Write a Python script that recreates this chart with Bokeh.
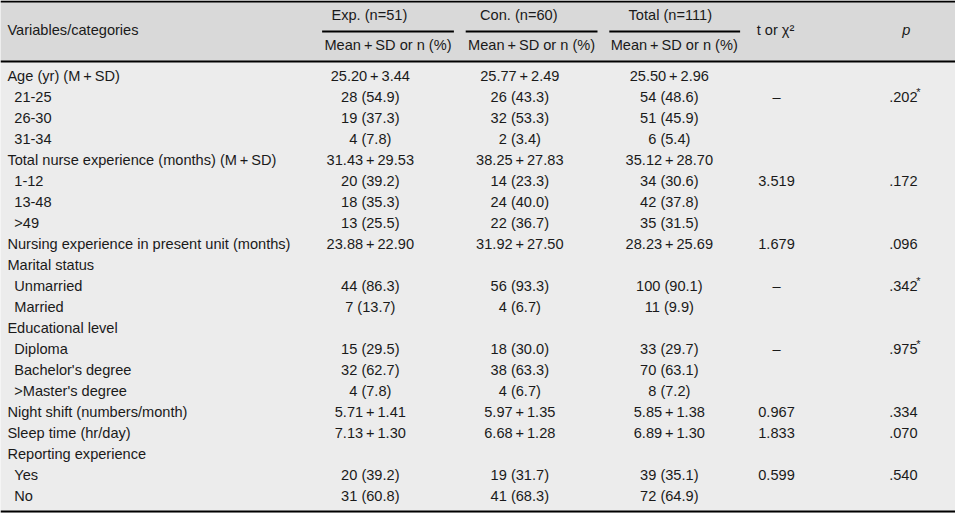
from bokeh.plotting import figure
from bokeh.models import ColumnDataSource, Range1d
from bokeh.core.properties import value
from bokeh.embed import file_html
from bokeh.resources import INLINE

PL = "\u2009+\u2009"

variables = ["Age (yr) (M" + PL + "SD)", "21-25", "26-30", "31-34",
             "Total nurse experience (months) (M" + PL + "SD)", "1-12", "13-48", ">49",
             "Nursing experience in present unit (months)", "Marital status",
             "Unmarried", "Married", "Educational level", "Diploma",
             "Bachelor's degree", ">Master's degree", "Night shift (numbers/month)",
             "Sleep time (hr/day)", "Reporting experience", "Yes", "No"]
level = [0, 1, 1, 1, 0, 1, 1, 1, 0, 0, 1, 1, 0, 1, 1, 1, 0, 0, 0, 1, 1]

exp_vals = ["25.20" + PL + "3.44", "28 (54.9)", "19 (37.3)", "4 (7.8)",
            "31.43" + PL + "29.53", "20 (39.2)", "18 (35.3)", "13 (25.5)",
            "23.88" + PL + "22.90", "", "44 (86.3)", "7 (13.7)", "",
            "15 (29.5)", "32 (62.7)", "4 (7.8)", "5.71" + PL + "1.41",
            "7.13" + PL + "1.30", "", "20 (39.2)", "31 (60.8)"]
con_vals = ["25.77" + PL + "2.49", "26 (43.3)", "32 (53.3)", "2 (3.4)",
            "38.25" + PL + "27.83", "14 (23.3)", "24 (40.0)", "22 (36.7)",
            "31.92" + PL + "27.50", "", "56 (93.3)", "4 (6.7)", "",
            "18 (30.0)", "38 (63.3)", "4 (6.7)", "5.97" + PL + "1.35",
            "6.68" + PL + "1.28", "", "19 (31.7)", "41 (68.3)"]
total_vals = ["25.50" + PL + "2.96", "54 (48.6)", "51 (45.9)", "6 (5.4)",
              "35.12" + PL + "28.70", "34 (30.6)", "42 (37.8)", "35 (31.5)",
              "28.23" + PL + "25.69", "", "100 (90.1)", "11 (9.9)", "",
              "33 (29.7)", "70 (63.1)", "8 (7.2)", "5.85" + PL + "1.38",
              "6.89" + PL + "1.30", "", "39 (35.1)", "72 (64.9)"]
t_vals = ["", "\u2013", "", "", "", "3.519", "", "", "1.679", "", "\u2013", "", "",
          "\u2013", "", "", "0.967", "1.833", "", "0.599", ""]
p_vals = ["", ".202", "", "", "", ".172", "", "", ".096", "", ".342", "", "",
          ".975", "", "", ".334", ".070", "", ".540", ""]
p_star = [False, True, False, False, False, False, False, False, False, False, True,
          False, False, True, False, False, False, False, False, False, False]

group_headers = ["Exp. (n=51)", "Con. (n=60)", "Total (n=111)"]
sub_header = "Mean" + PL + "SD or n (%)"

W, H = 971, 529
FONT = value("Liberation Sans")
FS = "14.6px"
TXT = "#1a1a1a"

p = figure(width=955, height=513, x_range=Range1d(0, W), y_range=Range1d(H, 0),
           output_backend="svg", toolbar_location=None, min_border=0,
           x_axis_type=None, y_axis_type=None)
p.grid.visible = False
p.outline_line_color = None
p.background_fill_color = "#ececec"
p.border_fill_color = "#ececec"

# header band
p.quad(left=[0], right=[W], top=[0], bottom=[63], fill_color="#d9d9d9", line_color=None)

# rules
p.segment(x0=[0, 0, 0], x1=[W, W, W], y0=[1, 63, 527], y1=[1, 63, 527],
          line_color="black", line_width=2)
p.segment(x0=[327, 473, 619], x1=[461, 607, 752], y0=[32, 32, 32], y1=[32, 32, 32],
          line_color="black", line_width=2)

# header texts
p.text(x=[7], y=[30], text=["Variables/categories"], text_font=FONT, text_font_size=FS,
       text_color=TXT, text_baseline="middle", text_align="left")
p.text(x=[375, 527, 681], y=[15, 15, 15], text=group_headers, text_font=FONT,
       text_font_size=FS, text_color=TXT, text_baseline="middle", text_align="center")
p.text(x=[394, 540, 685], y=[46, 46, 46], text=[sub_header] * 3, text_font=FONT,
       text_font_size=FS, text_color=TXT, text_baseline="middle", text_align="center")
p.text(x=[788], y=[30], text=["t or \u03c7\u00b2"], text_font=FONT, text_font_size=FS,
       text_color=TXT, text_baseline="middle", text_align="center")
p.text(x=[921], y=[30], text=["p"], text_font=FONT, text_font_size=FS,
       text_font_style="italic", text_color=TXT, text_baseline="middle", text_align="center")

# body
n = len(variables)
ys = [78 + i * 21.65 for i in range(n)]
src = ColumnDataSource(dict(
    y=ys,
    xl=[7 + 7 * lv for lv in level],
    var=variables, e=exp_vals, c=con_vals, t=total_vals, tc=t_vals, pv=p_vals,
))
common = dict(source=src, text_font=FONT, text_font_size=FS, text_color=TXT,
              text_baseline="middle")
p.text(x="xl", y="y", text="var", text_align="left", **common)
p.text(x=376, y="y", text="e", text_align="center", **common)
p.text(x=528, y="y", text="c", text_align="center", **common)
p.text(x=680, y="y", text="t", text_align="center", **common)
p.text(x=789, y="y", text="tc", text_align="center", **common)
p.text(x=918, y="y", text="pv", text_align="center", **common)

star_src = ColumnDataSource(dict(
    y=[ys[i] - 5 for i in range(n) if p_star[i]],
    s=["*" for i in range(n) if p_star[i]],
))
p.text(x=931, y="y", text="s", source=star_src, text_font=FONT, text_font_size="11px",
       text_color=TXT, text_baseline="middle", text_align="left")

open("out.html", "w").write(file_html(p, INLINE))
